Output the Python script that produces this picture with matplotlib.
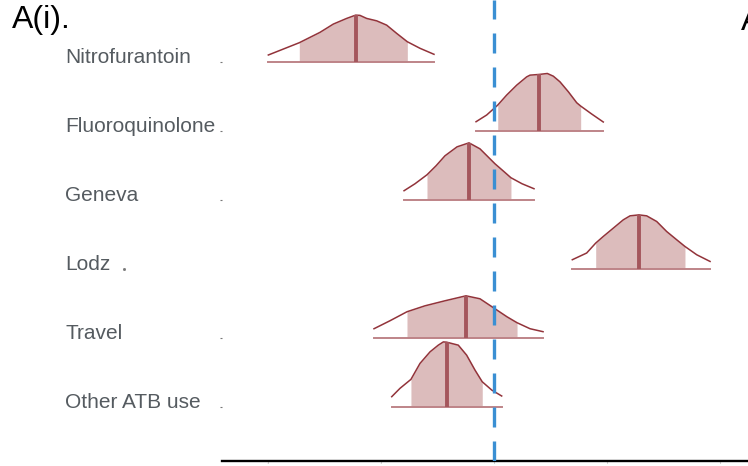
import numpy as np
import matplotlib
matplotlib.use("Agg")
import matplotlib.pyplot as plt
from matplotlib.transforms import blended_transform_factory

plt.rcParams["font.family"] = ["Liberation Sans", "DejaVu Sans"]

# posterior areas, top row first
params = ["Nitrofurantoin", "Fluoroquinolone", "Geneva", "Lodz", "Travel", "Other ATB use"]

nitro_x = [-1.997, -1.723, -1.540, -1.422, -1.304, -1.224, -1.186, -1.127, -1.038, -0.950, -0.861, -0.767, -0.655, -0.531]
nitro_d = [0.097, 0.275, 0.425, 0.545, 0.627, 0.675, 0.671, 0.627, 0.592, 0.530, 0.410, 0.289, 0.194, 0.107]

fluoro_x = [-0.159, -0.065, 0.033, 0.112, 0.201, 0.289, 0.319, 0.398, 0.472, 0.525, 0.584, 0.658, 0.732, 0.767, 0.865, 0.967]
fluoro_d = [0.130, 0.227, 0.371, 0.516, 0.660, 0.780, 0.805, 0.815, 0.829, 0.790, 0.708, 0.564, 0.405, 0.357, 0.241, 0.126]

geneva_x = [-0.796, -0.699, -0.593, -0.513, -0.434, -0.327, -0.221, -0.124, 0.009, 0.080, 0.150, 0.248, 0.354]
geneva_d = [0.130, 0.231, 0.361, 0.491, 0.636, 0.766, 0.824, 0.737, 0.520, 0.419, 0.318, 0.231, 0.159]

lodz_x = [0.693, 0.820, 0.900, 0.967, 1.056, 1.144, 1.204, 1.283, 1.351, 1.440, 1.528, 1.617, 1.690, 1.794, 1.912]
lodz_d = [0.130, 0.227, 0.371, 0.467, 0.588, 0.708, 0.766, 0.780, 0.766, 0.684, 0.539, 0.419, 0.322, 0.202, 0.105]

travel_x = [-1.062, -0.920, -0.770, -0.611, -0.434, -0.248, -0.124, 0.009, 0.115, 0.204, 0.319, 0.434]
travel_d = [0.130, 0.246, 0.376, 0.462, 0.535, 0.607, 0.564, 0.419, 0.303, 0.217, 0.130, 0.087]

other_x = [-0.905, -0.832, -0.735, -0.655, -0.566, -0.493, -0.448, -0.419, -0.316, -0.242, -0.168, -0.104, -0.020, 0.068]
other_d = [0.145, 0.266, 0.396, 0.627, 0.795, 0.892, 0.939, 0.935, 0.892, 0.747, 0.530, 0.361, 0.241, 0.155]

xs = [nitro_x, fluoro_x, geneva_x, lodz_x, travel_x, other_x]
ds = [nitro_d, fluoro_d, geneva_d, lodz_d, travel_d, other_d]

# inner (50%) interval and median
inner_lo = [-1.723, 0.033, -0.593, 0.900, -0.770, -0.735]
inner_hi = [-0.767, 0.767, 0.150, 1.690, 0.204, -0.104]
medians = [-1.217, 0.398, -0.221, 1.283, -0.248, -0.416]

xticks = [-2, -1, 0, 1, 2]

fig = plt.figure(figsize=(7.48, 4.66), dpi=100)
ax = fig.add_axes([222 / 748, 5 / 466, 1 - 222 / 748, 461 / 466])

n = len(params)
for i, name in enumerate(params):
    y0 = n - 1 - i
    x = np.array(xs[i])
    d = np.array(ds[i])
    m = (x >= inner_lo[i] - 1e-9) & (x <= inner_hi[i] + 1e-9)
    ax.fill_between(x[m], y0, y0 + d[m], color="#DCBCBC", lw=0, zorder=1)
    ax.plot([x[0], x[-1]], [y0, y0], color="#BE8488", lw=1.4, zorder=2)
    ax.plot(x, y0 + d, color="#92333A", lw=1.1, solid_joinstyle="round", zorder=3)
    top = np.interp(medians[i], x, d)
    ax.plot([medians[i], medians[i]], [y0, y0 + top], color="#A4565C", lw=2.8,
            solid_capstyle="butt", zorder=3)

ax.axvline(0, color="#3A8FD3", lw=2.4, dashes=(6, 4.2), zorder=4)

ax.set_xlim((222 - 494) / 113, (748 - 494) / 113)
ax.set_ylim(-0.787, 5.894)

for s in ["top", "right", "left"]:
    ax.spines[s].set_visible(False)
ax.spines["bottom"].set_linewidth(1.7)
ax.spines["bottom"].set_color("black")

ax.set_xticks(xticks)
ax.set_xticklabels([str(t) for t in xticks], fontsize=1.5, color="#888888")
ax.tick_params(axis="x", length=0.5, pad=1)

ax.set_yticks(range(n))
ax.set_yticklabels([])
ax.tick_params(axis="y", length=1.5, width=0.8, color="#777777", pad=0)
for t, tick in enumerate(ax.yaxis.get_major_ticks()):
    if params[n - 1 - t] == "Lodz":
        tick.tick1line.set_visible(False)

trans = blended_transform_factory(fig.transFigure, ax.transData)
for i, name in enumerate(params):
    y0 = n - 1 - i
    ax.text(65 / 748, y0 + 0.06, name, transform=trans, ha="left", va="center",
            fontsize=15, color="#555B60", clip_on=False)
    if name == "Lodz":
        ax.plot([124 / 748], [y0], transform=trans, marker="s", ms=1.0,
                color="#777777", clip_on=False)

fig.text(12 / 748, 1 - 20 / 466, "A(i).", fontsize=23, color="black", ha="left", va="center")
fig.text(741 / 748, 1 - 22 / 466, "A", fontsize=23, color="black", ha="left", va="center")

fig.savefig("out.png", dpi=100)
